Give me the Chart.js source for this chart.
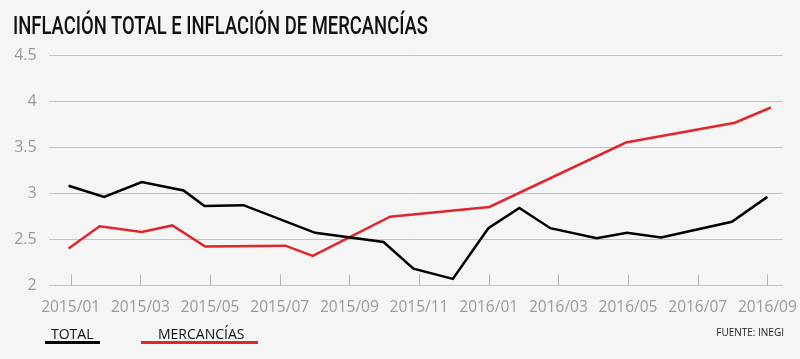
<!DOCTYPE html>
<html>
<head>
<meta charset="utf-8">
<script src="https://cdn.jsdelivr.net/npm/chart.js@4/dist/chart.umd.min.js"></script>
<style>
  html, body { margin: 0; padding: 0; background: #f5f5f5; }
  #wrap { position: relative; width: 800px; height: 359px; overflow: hidden; background: #f5f5f5; }
  #c { position: absolute; left: 0; top: 0; }
  #title { position: absolute; left: 13px; top: 12.6px; font-family: Roboto, sans-serif; font-weight: 500; font-size: 25.7px; line-height: 1; color: #111; white-space: nowrap; transform-origin: 0 0; }
  .leg { position: absolute; font-family: "Open Sans", sans-serif; font-size: 14px; line-height: 1; color: #111; white-space: nowrap; }
  .bar { position: absolute; height: 2.5px; }
  #src { position: absolute; font-family: "Open Sans", sans-serif; font-size: 10px; line-height: 1; color: #222; white-space: nowrap; right: 16px; top: 327px; }
</style>
</head>
<body>
<div id="wrap">
  <canvas id="c" width="800" height="359"></canvas>
  <div id="title">INFLACIÓN TOTAL E INFLACIÓN DE MERCANCÍAS</div>
  <div class="leg" style="left:51px; top:326.5px;">TOTAL</div>
  <div class="bar" style="left:45px; width:55px; top:341px; background:#000;"></div>
  <div class="leg" style="left:158px; top:326.5px;">MERCANCÍAS</div>
  <div class="bar" style="left:141px; width:117px; top:341px; background:#e0262d;"></div>
  <div id="src">FUENTE: INEGI</div>
</div>
<script>
// months counted from 2015/01 (0) to 2016/09 (20)
const xTickMonths = [0, 2, 4, 6, 8, 10, 12, 14, 16, 18, 20];
const xTickLabels = ["2015/01", "2015/03", "2015/05", "2015/07", "2015/09", "2015/11", "2016/01", "2016/03", "2016/05", "2016/07", "2016/09"];
const yTicks = [2, 2.5, 3, 3.5, 4, 4.5];

const totalMonths = [-0.06, 0.96, 2.04, 3.24, 3.84, 4.96, 7.02, 8.98, 9.84, 10.97, 11.99, 12.88, 13.77, 15.10, 15.97, 16.95, 18.98, 20.00];
const totalValues = [3.08, 2.96, 3.12, 3.03, 2.86, 2.87, 2.57, 2.47, 2.18, 2.07, 2.62, 2.84, 2.62, 2.51, 2.57, 2.52, 2.69, 2.96];

const mercMonths = [-0.06, 0.83, 2.04, 2.92, 3.86, 6.16, 6.95, 9.17, 12.02, 15.94, 19.07, 20.10];
const mercValues = [2.40, 2.64, 2.58, 2.65, 2.42, 2.43, 2.32, 2.745, 2.85, 3.55, 3.765, 3.93];

// fit condensed title width
const t = document.getElementById('title');
const w = t.getBoundingClientRect().width;
t.style.transform = 'scaleX(' + (415 / w) + ')';

const tickMarks = {
  id: 'tickMarks',
  beforeDatasetsDraw(chart) {
    const xs = chart.scales.x, ys = chart.scales.y, ctx = chart.ctx;
    const yb = ys.getPixelForValue(2);
    ctx.save();
    ctx.strokeStyle = '#b5b5b5';
    ctx.lineWidth = 1;
    xs.ticks.forEach(tk => {
      const x = Math.round(xs.getPixelForValue(tk.value)) + 0.5;
      ctx.beginPath();
      ctx.moveTo(x, yb);
      ctx.lineTo(x, yb - 11);
      ctx.stroke();
    });
    ctx.restore();
  }
};

new Chart(document.getElementById('c'), {
  type: 'line',
  data: {
    datasets: [
      { label: 'TOTAL', data: totalMonths.map((m, i) => ({ x: m, y: totalValues[i] })), borderColor: '#000', borderWidth: 2.5, pointRadius: 0, tension: 0, fill: false },
      { label: 'MERCANCÍAS', data: mercMonths.map((m, i) => ({ x: m, y: mercValues[i] })), borderColor: '#e0262d', borderWidth: 2.5, pointRadius: 0, tension: 0, fill: false }
    ]
  },
  options: {
    responsive: false,
    animation: false,
    layout: { padding: { left: 0, right: 17.3, top: 55, bottom: 0 } },
    plugins: { legend: { display: false }, tooltip: { enabled: false } },
    scales: {
      x: {
        type: 'linear',
        min: -0.614,
        max: 20.44,
        afterBuildTicks: s => { s.ticks = xTickMonths.map(v => ({ value: v })); },
        afterFit: s => { s.height = 73.7; s.paddingLeft = 0; s.paddingRight = 0; },
        grid: { display: false, drawTicks: false },
        border: { display: false },
        ticks: {
          autoSkip: false,
          maxRotation: 0,
          padding: 13,
          color: '#9a9a9a',
          font: { family: 'Open Sans', size: 15.5 },
          callback: v => xTickLabels[xTickMonths.indexOf(v)]
        }
      },
      y: {
        min: 2,
        max: 4.5,
        afterBuildTicks: s => { s.ticks = yTicks.map(v => ({ value: v })); },
        afterFit: s => { s.width = 49.3; s.paddingTop = 0; s.paddingBottom = 0; },
        grid: { color: '#c2c2c2', lineWidth: 1, drawTicks: false },
        border: { display: false },
        ticks: {
          padding: 12.6,
          color: '#9a9a9a',
          font: { family: 'Open Sans', size: 16 },
          callback: v => String(v)
        }
      }
    }
  },
  plugins: [tickMarks]
});
</script>
</body>
</html>
